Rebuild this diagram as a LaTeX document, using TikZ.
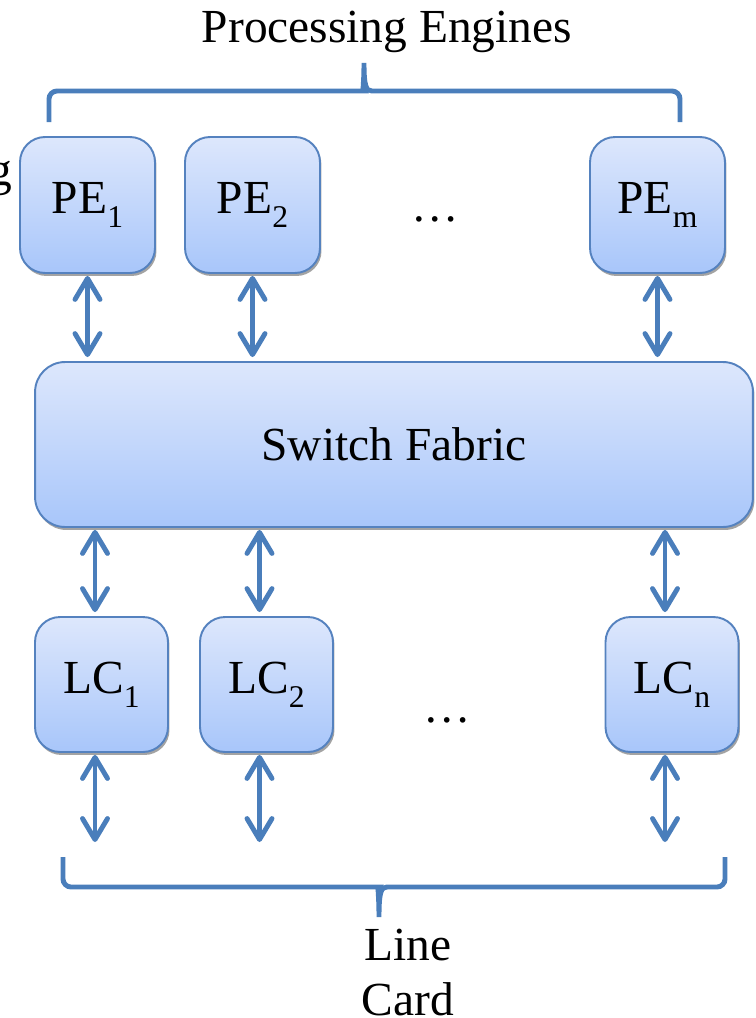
\documentclass[tikz,border=0pt]{standalone}
\usepackage{fontspec}
\setmainfont{Liberation Serif}
\usetikzlibrary{arrows.meta,shadows}
\definecolor{boxLine}{HTML}{5582BF}
\definecolor{boxTop} {HTML}{DDE7FC}
\definecolor{boxBot} {HTML}{A8C6FA}
\definecolor{linkCol}{HTML}{4A7EBB}
\newcommand\sbs[1]{\raisebox{-0.3em}{\fontsize{18}{18}\selectfont #1}}

\begin{document}
\begin{tikzpicture}[
  x=0.02cm, y=-0.02cm,
  font=\fontsize{27}{33}\selectfont,
  >={Straight Barb[round,length=0.42cm,width=0.5cm]},
  unit/.style={draw=boxLine,line width=1.1pt,rounded corners=0.5cm,
               top color=boxTop,bottom color=boxBot,
               drop shadow={shadow xshift=0.03cm,shadow yshift=-0.06cm,fill=black!45,opacity=.8},
               minimum width=2.7cm,minimum height=2.72cm,inner sep=0pt},
  lcU/.style={unit,minimum width=2.66cm,minimum height=2.7cm},
  link/.style={<->,draw=linkCol,line width=2.8pt,shorten <=0.04cm,shorten >=0.08cm},
  brace/.style={draw=linkCol,line width=2.8pt,rounded corners=0.16cm},
]
\useasboundingbox (0,0) rectangle (755,1018);

% ---- labels --------------------------------------------------------------
\node[anchor=base] (peLbl) at (387,42) {Processing Engines};
\node[anchor=base east,inner sep=0pt] (gLbl) at (13,185) {g};
\node[anchor=base] (lineLbl) at (408,960) {Line};
\node[anchor=base] (cardLbl) at (408,1015) {Card};

% ---- processing engines --------------------------------------------------
\node[unit] (pe1) at (87.5,205) {PE\sbs{1}};
\node[unit] (pe2) at (252.5,205) {PE\sbs{2}};
\node[anchor=base] (peDots) at (435,221) {\dots};
\node[unit] (pem) at (657.5,205) {PE\sbs{m}};

% ---- switch fabric -------------------------------------------------------
\node[unit,rounded corners=0.6cm,minimum width=14.36cm,minimum height=3.3cm]
  (sf) at (394,444.5) {Switch Fabric};

% ---- line cards ----------------------------------------------------------
\node[lcU] (lc1) at (101.5,684.5) {LC\sbs{1}};
\node[lcU] (lc2) at (266.5,684.5) {LC\sbs{2}};
\node[anchor=base] (lcDots) at (447,722) {\dots};
\node[lcU] (lcn) at (672,684.5) {LC\sbs{n}};

% free ends below the line cards
\coordinate (out1) at (95,842);
\coordinate (out2) at (259.5,842);
\coordinate (outn) at (665,842);

% ---- links ---------------------------------------------------------------
\draw[link] (pe1.south) -- (pe1.south |- sf.north);
\draw[link] (pe2.south) -- (pe2.south |- sf.north);
\draw[link] (pem.south) -- (pem.south |- sf.north);

\draw[link] (out1 |- sf.south) -- (out1 |- lc1.north);
\draw[link] (out2 |- sf.south) -- (out2 |- lc2.north);
\draw[link] (outn |- sf.south) -- (outn |- lcn.north);

\draw[link,shorten >=0pt] (out1 |- lc1.south) -- (out1);
\draw[link,shorten >=0pt] (out2 |- lc2.south) -- (out2);
\draw[link,shorten >=0pt] (outn |- lcn.south) -- (outn);

% ---- braces --------------------------------------------------------------
\draw[brace] (49,122) -- (49,91) -- (356,91)
  {[rounded corners=0pt] .. controls (362,91) and (364,86) .. (364,63)
   .. controls (364,86) and (366,91) .. (372,91)} -- (680,91) -- (680,122);
\draw[brace] (63,857) -- (63,887) -- (371,887)
  {[rounded corners=0pt] .. controls (377,887) and (379,892) .. (379,917)
   .. controls (379,892) and (381,887) .. (387,887)} -- (725,887) -- (725,857);

\end{tikzpicture}
\end{document}
